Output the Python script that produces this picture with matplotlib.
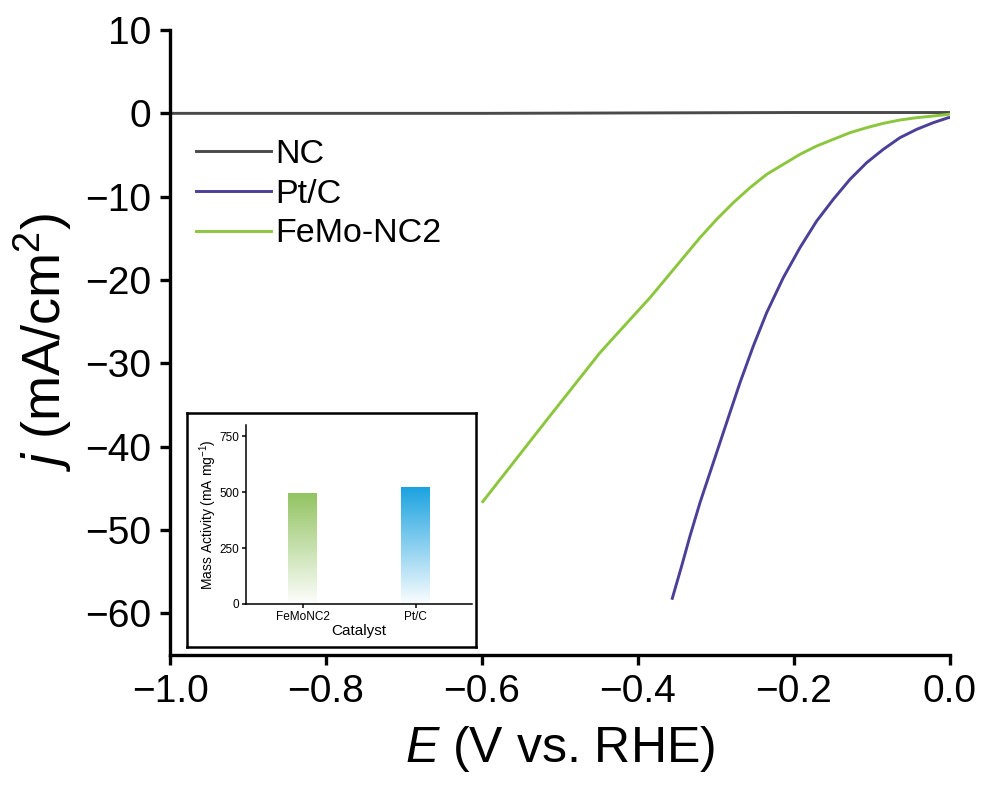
import numpy as np
import matplotlib.pyplot as plt
from matplotlib.colors import LinearSegmentedColormap

plt.rcParams['font.family'] = ['Liberation Sans', 'DejaVu Sans']
plt.rcParams['mathtext.fontset'] = 'custom'
plt.rcParams['mathtext.rm'] = 'Liberation Sans'
plt.rcParams['mathtext.it'] = 'Liberation Sans:italic'

# LSV polarization data (E in V vs. RHE, j in mA/cm^2)
nc_E = [-1.0, -0.8, -0.6, -0.4, -0.2, 0.0]
nc_j = [0.0, 0.0, 0.0, 0.05, 0.1, 0.1]

ptc_E = [0.0, -0.0021, -0.0214, -0.0427, -0.0641, -0.0855, -0.1068, -0.1282,
         -0.1496, -0.1709, -0.1923, -0.2137, -0.2350, -0.2521, -0.2692, -0.2821,
         -0.2949, -0.3077, -0.3205, -0.3333, -0.3440, -0.3560]
ptc_j = [-0.5, -0.52, -1.12, -1.92, -2.92, -4.32, -5.92, -7.92,
         -10.32, -12.92, -16.12, -19.72, -23.92, -27.92, -32.32, -35.92,
         -39.52, -43.12, -46.72, -50.72, -54.32, -58.2]

femo_E = [0.0, -0.0021, -0.0214, -0.0427, -0.0641, -0.0855, -0.1068, -0.1282,
          -0.1496, -0.1709, -0.1923, -0.2137, -0.2350, -0.2564, -0.2778, -0.2991,
          -0.3205, -0.3419, -0.3632, -0.3846, -0.4060, -0.4274, -0.4487, -0.5128,
          -0.5990]
femo_j = [-0.1, -0.12, -0.32, -0.52, -0.80, -1.20, -1.72, -2.32,
          -3.12, -3.92, -4.92, -6.12, -7.32, -8.92, -10.72, -12.72,
          -14.92, -17.32, -19.72, -22.12, -24.32, -26.52, -28.72, -36.3,
          -46.6]

# Mass activity inset data
catalysts = ['FeMoNC2', 'Pt/C']
mass_activity = [495, 525]

fig = plt.figure(figsize=(9.84, 7.86), dpi=100)
ax = fig.add_axes([0.1728, 0.1667, 0.7926, 0.7951])

ax.plot(nc_E, nc_j, color='#4a4a4a', lw=2.1, label='NC')
ax.plot(ptc_E, ptc_j, color='#4b3f98', lw=2.1, label='Pt/C')
ax.plot(femo_E, femo_j, color='#8cc63e', lw=2.1, label='FeMo-NC2')

ax.set_xlim(-1.0, 0.0)
ax.set_ylim(-65, 10)
ax.set_xticks([-1.0, -0.8, -0.6, -0.4, -0.2, 0.0])
ax.set_xticklabels(['\u22121.0', '\u22120.8', '\u22120.6', '\u22120.4', '\u22120.2', '0.0'])
ax.set_yticks([10, 0, -10, -20, -30, -40, -50, -60])
ax.set_yticklabels(['10', '0', '\u221210', '\u221220', '\u221230', '\u221240', '\u221250', '\u221260'])
for s in ['top', 'right']:
    ax.spines[s].set_visible(False)
for s in ['left', 'bottom']:
    ax.spines[s].set_linewidth(2.4)
ax.tick_params(direction='out', length=7.5, width=2.4, labelsize=28, pad=6)
ax.set_xlabel('$\\it{E}$ (V vs. RHE)', fontsize=36, labelpad=10)
ax.set_ylabel('$\\it{j}$ (mA/cm$^2$)', fontsize=39, labelpad=8)

ax.legend(loc='upper left', bbox_to_anchor=(0.033, 0.826), frameon=False,
          fontsize=24.5, handlelength=2.2, handletextpad=0.15, labelspacing=0.26,
          borderaxespad=0.0, borderpad=0.0)

# Inset frame
frame = fig.add_axes([0.190, 0.1768, 0.2937, 0.2977])
frame.set_xticks([])
frame.set_yticks([])
for s in frame.spines.values():
    s.set_linewidth(1.8)
    s.set_color('black')

# Inset bar chart with vertical gradient fills
ins = fig.add_axes([0.25, 0.2316, 0.2297, 0.2277])
x = np.arange(len(catalysts))
bars = ins.bar(x, mass_activity, width=0.25, color='none', edgecolor='none')
top_colors = ['#93c463', '#19a2e0']
for b, c in zip(bars, top_colors):
    cmap = LinearSegmentedColormap.from_list('fade', ['#ffffff', c])
    grad = np.linspace(0.02, 1.0, 256).reshape(-1, 1)
    bx, by = b.get_x(), b.get_y()
    im = ins.imshow(grad, cmap=cmap, vmin=0, vmax=1, origin='lower', aspect='auto',
                    extent=[bx, bx + b.get_width(), by, by + b.get_height()], zorder=2)
    im.set_clip_path(b)
ins.set_xlim(-0.5, 1.5)
ins.set_ylim(0, 800)
ins.set_xticks(x)
ins.set_xticklabels(catalysts)
ins.set_yticks([0, 250, 500, 750])
for s in ['top', 'right']:
    ins.spines[s].set_visible(False)
for s in ['left', 'bottom']:
    ins.spines[s].set_linewidth(1.1)
ins.tick_params(direction='out', length=3, width=1.1, labelsize=8.5, pad=2)
ins.set_xlabel('Catalyst', fontsize=11, labelpad=1)
ins.set_ylabel('Mass Activity (mA mg$^{-1}$)', fontsize=10, labelpad=0)

fig.savefig('out.png', dpi=100)
